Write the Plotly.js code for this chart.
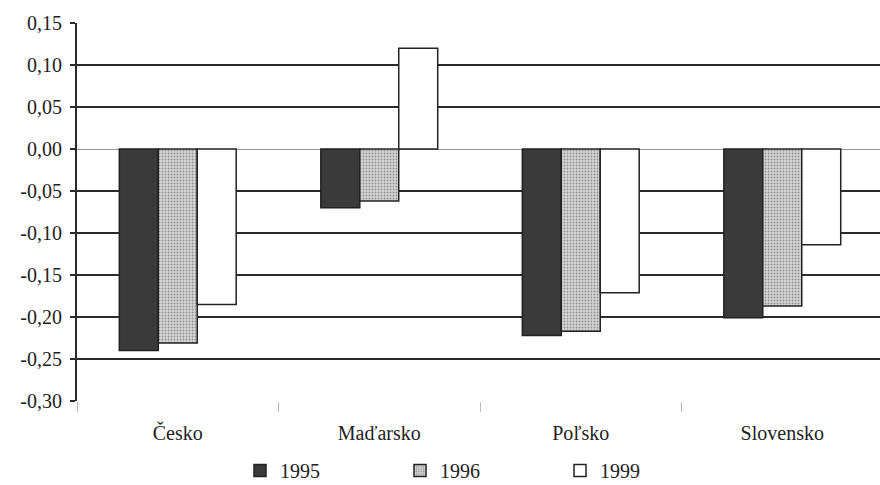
<!DOCTYPE html>
<html>
<head>
<meta charset="utf-8">
<script src="https://cdn.plot.ly/plotly-3.0.1.min.js"></script>
<style>html,body{margin:0;padding:0;background:#fff;}#chart{width:880px;height:485px;}</style>
</head>
<body>
<div id="chart"></div>
<script>
const categories = ["Česko", "Maďarsko", "Poľsko", "Slovensko"];
const seriesNames = ["1995", "1996", "1999"];
const v1995 = [-0.240, -0.070, -0.222, -0.201];
const v1996 = [-0.231, -0.062, -0.217, -0.187];
const v1999 = [-0.185, 0.120, -0.171, -0.114];
const yTickVals = [0.15, 0.10, 0.05, 0.00, -0.05, -0.10, -0.15, -0.20, -0.25, -0.30];
const yTickText = ["0,15", "0,10", "0,05", "0,00", "-0,05", "-0,10", "-0,15", "-0,20", "-0,25", "-0,30"];

const FAM = "Liberation Serif";
const font = {family: FAM, size: 20, color: "#222"};
const outline = {color: "#222", width: 1.5};

const traces = [
  {type: "bar", name: seriesNames[0], x: categories, y: v1995,
   marker: {color: "#3a3a3a", line: outline}},
  {type: "bar", name: seriesNames[1], x: categories, y: v1996,
   marker: {color: "#c8c8c8", line: outline,
            pattern: {shape: ".", fgcolor: "#8f8f8f", bgcolor: "#d6d6d6", size: 3, solidity: 0.3}}},
  {type: "bar", name: seriesNames[2], x: categories, y: v1999,
   marker: {color: "#ffffff", line: outline}}
];

const layout = {
  width: 880, height: 485,
  margin: {l: 77, r: 0, t: 23, b: 84},
  paper_bgcolor: "#ffffff", plot_bgcolor: "#ffffff",
  font: font,
  barmode: "group", bargap: 0.42, bargroupgap: 0,
  showlegend: true,
  legend: {orientation: "h", x: 0.203, xanchor: "left", yref: "container", y: 0.03, yanchor: "middle",
           entrywidth: 115, entrywidthmode: "pixels", itemwidth: 30,
           font: {family: FAM, size: 20, color: "#222"}, traceorder: "normal"},
  xaxis: {range: [-0.5, 3.485], showgrid: false, zeroline: false,
          showline: false, ticks: "outside", tickson: "boundaries", ticklen: 10,
          tickcolor: "#bbb", tickwidth: 1, ticklabelstandoff: 18,
          tickfont: {family: FAM, size: 20, color: "#222"}},
  yaxis: {range: [-0.30, 0.15], tickvals: yTickVals, ticktext: yTickText,
          showgrid: true, gridcolor: "#2a2a2a", gridwidth: 2,
          zeroline: true, zerolinecolor: "#999", zerolinewidth: 1,
          showline: true, linecolor: "#2a2a2a", linewidth: 2,
          ticks: "outside", ticklen: 5, tickcolor: "#2a2a2a", tickwidth: 2,
          ticklabelstandoff: 4,
          tickfont: {family: FAM, size: 20, color: "#222"}}
};

Plotly.newPlot("chart", traces, layout, {displayModeBar: false, staticPlot: true});
</script>
</body>
</html>
